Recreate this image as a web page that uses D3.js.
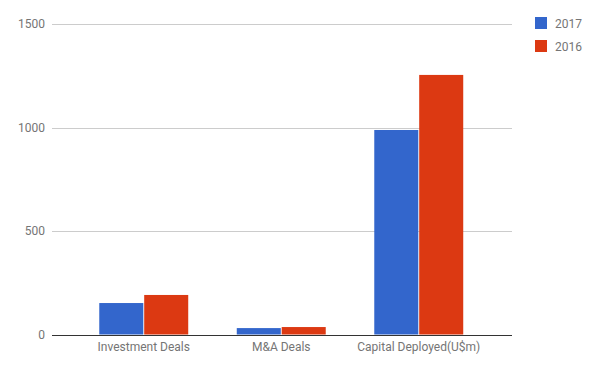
<!DOCTYPE html>
<html>
<head>
<meta charset="utf-8">
<script src="https://cdn.jsdelivr.net/npm/d3@7"></script>
<style>
  body { margin: 0; background: #fff; }
  text { font-family: Roboto, Arial, sans-serif; }
</style>
</head>
<body>
<div id="root"></div>
<script>
// chart data
const categories = ["Investment Deals", "M&A Deals", "Capital Deployed(U$m)"];
const seriesNames = ["2017", "2016"];
const values2017 = [152, 31, 988];
const values2016 = [191, 36, 1254];
const yTicks = [0, 500, 1000, 1500];
const colors = ["#3366cc", "#dc3912"];

const width = 600, height = 371;
const plotLeft = 52, plotRight = 512, plotTop = 24, plotBottom = 334.5;

const svg = d3.select("#root").append("svg")
  .attr("width", width)
  .attr("height", height);

const y = d3.scaleLinear().domain([0, 1500]).range([plotBottom, plotTop]);

const x = d3.scaleBand()
  .domain(categories)
  .range([75, 487.5])
  .paddingInner(0.353)
  .paddingOuter(0.1765);

const xs = d3.scaleBand()
  .domain(seriesNames)
  .range([0, x.bandwidth()])
  .paddingInner(0.02);

// gridlines + y labels
svg.selectAll(".grid")
  .data(yTicks)
  .join("line")
  .attr("x1", plotLeft).attr("x2", plotRight)
  .attr("y1", d => Math.round(y(d)) + 0.5)
  .attr("y2", d => Math.round(y(d)) + 0.5)
  .attr("stroke", "#cccccc");

svg.selectAll(".ylab")
  .data(yTicks)
  .join("text")
  .attr("x", plotLeft - 7)
  .attr("y", d => y(d) + 4)
  .attr("text-anchor", "end")
  .attr("font-size", 12)
  .attr("fill", "#757575")
  .text(d => d);

// bars
const rows = categories.map((c, i) => ({ cat: c, vals: [values2017[i], values2016[i]] }));

const groups = svg.selectAll(".grp")
  .data(rows)
  .join("g")
  .attr("transform", d => `translate(${x(d.cat)},0)`);

groups.selectAll("rect")
  .data(d => d.vals.map((v, j) => ({ key: seriesNames[j], v: v, j: j })))
  .join("rect")
  .attr("x", d => xs(d.key))
  .attr("width", xs.bandwidth())
  .attr("y", d => y(d.v))
  .attr("height", d => y(0) - y(d.v))
  .attr("fill", d => colors[d.j]);

// baseline
svg.append("line")
  .attr("x1", plotLeft).attr("x2", plotRight)
  .attr("y1", Math.round(y(0)) + 0.5).attr("y2", Math.round(y(0)) + 0.5)
  .attr("stroke", "#333333");

// category labels
svg.selectAll(".xlab")
  .data(categories)
  .join("text")
  .attr("x", d => x(d) + x.bandwidth() / 2)
  .attr("y", 351)
  .attr("text-anchor", "middle")
  .attr("font-size", 12)
  .attr("fill", "#757575")
  .text(d => d);

// legend
const legend = svg.selectAll(".leg")
  .data(seriesNames)
  .join("g")
  .attr("transform", (d, i) => `translate(535,${17 + i * 23})`);

legend.append("rect")
  .attr("width", 12).attr("height", 12)
  .attr("fill", (d, i) => colors[i]);

legend.append("text")
  .attr("x", 20).attr("y", 10.5)
  .attr("font-size", 12)
  .attr("fill", "#757575")
  .text(d => d);
</script>
</body>
</html>
